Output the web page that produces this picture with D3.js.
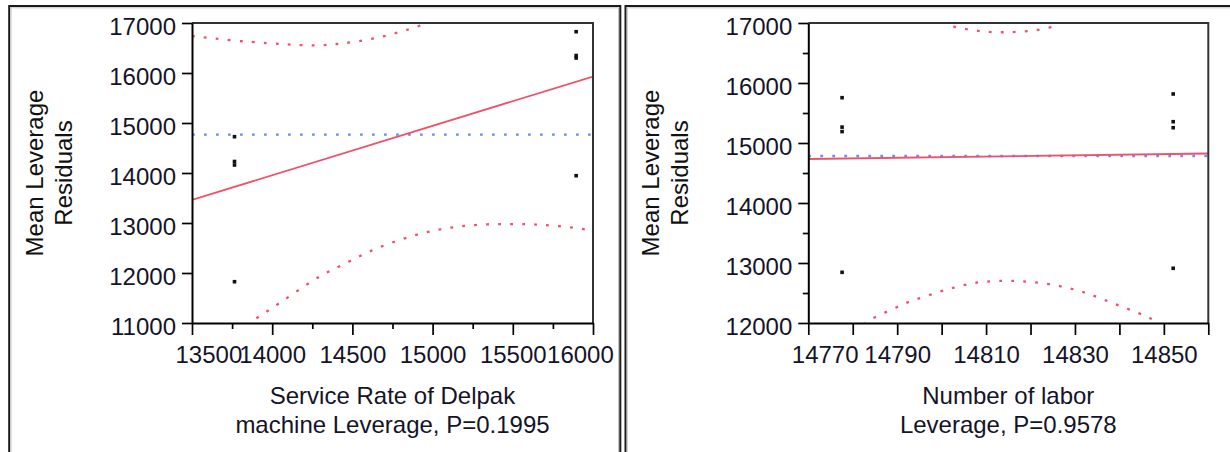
<!DOCTYPE html>
<html>
<head>
<meta charset="utf-8">
<script src="https://cdn.jsdelivr.net/npm/d3@7"></script>
<style>
  html, body { margin: 0; padding: 0; background: #fff; }
  svg { display: block; font-family: "Liberation Sans", Arial, sans-serif; }
</style>
</head>
<body>
<svg id="chart" width="1230" height="452"></svg>
<script>
// ---------------- Left panel: Service Rate of Delpak machine ----------------
const leftPointX = [13765, 13765, 13765, 13765, 15895, 15895, 15895, 15895];
const leftPointY = [14726, 14230, 14160, 11826, 16826, 16350, 16300, 13946];
const leftFitX = [13500, 16000];
const leftFitY = [13460, 15930];
const leftMeanY = 14767;
const leftUpperX = [13500, 13756, 13987, 14144, 14300, 14425, 14569, 14717, 14862, 14936, 14990];
const leftUpperY = [16740, 16646, 16594, 16560, 16546, 16586, 16646, 16746, 16880, 16960, 17060];
const leftLowerX = [13840, 13894, 14036, 14279, 14352, 14487, 14612, 14758, 14904, 15050, 15196, 15342, 15498, 15644, 15789, 15946, 16006];
const leftLowerY = [10960, 11080, 11374, 11913, 12026, 12240, 12446, 12626, 12774, 12880, 12946, 12980, 12980, 12974, 12940, 12880, 12840];
const leftXTicks = [13500, 14000, 14500, 15000, 15500, 16000];
const leftXMinor = [13750, 14250, 14750, 15250, 15750];
const leftYTicks = [11000, 12000, 13000, 14000, 15000, 16000, 17000];
const leftYMinor = [];
const leftXDomain = [13500, 16000];
const leftYDomain = [11000, 17000];
const leftYTitle = ["Mean Leverage", "Residuals"];
const leftXTitle = ["Service Rate of Delpak", "machine Leverage, P=0.1995"];

// ---------------- Right panel: Number of labor ----------------
const rightPointX = [14777.6, 14777.6, 14777.6, 14777.6, 14852.1, 14852.1, 14852.1, 14852.1];
const rightPointY = [15755, 15265, 15190, 12845, 15817, 15355, 15255, 12912];
const rightFitX = [14770, 14860];
const rightFitY = [14733, 14825];
const rightMeanY = 14783;
const rightUpperX = [14800.2, 14801.5, 14804.1, 14806.8, 14809.5, 14812.2, 14814.9, 14817.6, 14820.4, 14823, 14825.7, 14826.6];
const rightUpperY = [17030, 16967, 16912, 16883, 16855, 16845, 16845, 16855, 16872, 16900, 16950, 17020];
const rightLowerX = [14782.5, 14783.5, 14786.1, 14788.8, 14791.4, 14793.6, 14796.3, 14798.9, 14801.5, 14804.1, 14806.8, 14809.4, 14812.2, 14814.9, 14817.6, 14820.3, 14822.9, 14825.7, 14828.3, 14831.0, 14833.4, 14836.0, 14838.6, 14841.2, 14843.9, 14846.3, 14848.4, 14849.2];
const rightLowerY = [11970, 12050, 12133, 12228, 12312, 12383, 12438, 12512, 12562, 12617, 12662, 12688, 12700, 12705, 12700, 12683, 12662, 12628, 12588, 12538, 12478, 12405, 12328, 12255, 12178, 12105, 12022, 11970];
const rightXTicks = [14770, 14780, 14790, 14800, 14810, 14820, 14830, 14840, 14850, 14860];
const rightXLabels = [14770, 14790, 14810, 14830, 14850];
const rightXMinor = [];
const rightYTicks = [12000, 13000, 14000, 15000, 16000, 17000];
const rightYMinor = [12500, 13500, 14500, 15500, 16500];
const rightXDomain = [14770, 14860];
const rightYDomain = [12000, 17000];
const rightYTitle = ["Mean Leverage", "Residuals"];
const rightXTitle = ["Number of labor", "Leverage, P=0.9578"];

// ---------------- Drawing ----------------
const svg = d3.select("#chart");
svg.append("rect").attr("width", 1230).attr("height", 452).attr("fill", "#fff");

const FONT = 24;
const TEXT = "#141428";
const RED = "#f0506a";
const BLUE = "#6f8ef2";
const TOP = 23, BOTTOM = 323;

function zip(xs, ys) { return xs.map((v, i) => [v, ys[i]]); }

function drawPanel(p, id) {
  // panel frame
  svg.append("path")
    .attr("d", `M${p.panelL},470 V6 H${p.panelR} V470`)
    .attr("fill", "none").attr("stroke", "#1a1a1a").attr("stroke-width", 2);
  svg.append("path")
    .attr("d", `M${p.panelL + 1.8},470 V7.8 H${p.panelR - 1.8} V470`)
    .attr("fill", "none").attr("stroke", "#c4c4c4").attr("stroke-width", 1);

  const x = d3.scaleLinear().domain(p.xDomain).range([p.plotL, p.plotR]);
  const y = d3.scaleLinear().domain(p.yDomain).range([BOTTOM, TOP]);
  const g = svg.append("g");

  // clip
  const clipId = "clip-" + id;
  svg.append("clipPath").attr("id", clipId)
    .append("rect").attr("x", p.plotL).attr("y", TOP)
    .attr("width", p.plotR - p.plotL).attr("height", BOTTOM - TOP);
  const plot = g.append("g").attr("clip-path", `url(#${clipId})`);

  // mean line (blue dotted)
  plot.append("line")
    .attr("x1", x(p.xDomain[0])).attr("x2", x(p.xDomain[1]))
    .attr("y1", y(p.mean)).attr("y2", y(p.mean))
    .attr("stroke", BLUE).attr("stroke-width", 2.3)
    .attr("stroke-dasharray", "2.8,9.2");

  // confidence curves (red dotted)
  const curve = d3.line().x(d => x(d[0])).y(d => y(d[1])).curve(d3.curveBasis);
  [p.upper, p.lower].forEach(pts => {
    plot.append("path").attr("d", curve(pts))
      .attr("fill", "none").attr("stroke", RED).attr("stroke-width", 2.3)
      .attr("stroke-dasharray", "2.8,9.2");
  });

  // fit line (red solid)
  plot.append("path").attr("d", d3.line().x(d => x(d[0])).y(d => y(d[1]))(p.fit))
    .attr("fill", "none").attr("stroke", RED).attr("stroke-width", 1.8);

  // points
  plot.selectAll("rect.pt").data(p.points).enter().append("rect")
    .attr("class", "pt")
    .attr("x", d => x(d[0]) - 1.8).attr("y", d => y(d[1]) - 1.8)
    .attr("width", 3.6).attr("height", 3.6).attr("fill", "#111");

  // frame (top & right)
  g.append("path")
    .attr("d", `M${p.plotL},${TOP} H${p.plotR} V${BOTTOM}`)
    .attr("fill", "none").attr("stroke", "#333").attr("stroke-width", 2);

  // x axis
  const xAxis = d3.axisBottom(x).tickValues(p.xTicks).tickSize(12).tickSizeOuter(0)
    .tickFormat(d => p.xLabels.includes(d) ? String(d) : "");
  const gx = g.append("g").attr("transform", `translate(0,${BOTTOM})`).call(xAxis);
  if (p.xMinor.length) {
    g.append("g").attr("transform", `translate(0,${BOTTOM})`)
      .call(d3.axisBottom(x).tickValues(p.xMinor).tickSize(6).tickSizeOuter(0).tickFormat(""))
      .call(s => s.select(".domain").remove());
  }
  // y axis
  const yAxis = d3.axisLeft(y).tickValues(p.yTicks).tickSize(10).tickSizeOuter(0)
    .tickFormat(d => String(d));
  const gy = g.append("g").attr("transform", `translate(${p.plotL},0)`).call(yAxis);
  if (p.yMinor.length) {
    g.append("g").attr("transform", `translate(${p.plotL},0)`)
      .call(d3.axisLeft(y).tickValues(p.yMinor).tickSize(5.5).tickSizeOuter(0).tickFormat(""))
      .call(s => s.select(".domain").remove());
  }

  g.selectAll(".domain").attr("stroke", "#000").attr("stroke-width", 2);
  g.selectAll(".tick line").attr("stroke", "#000").attr("stroke-width", 1.7);
  g.selectAll(".tick text").attr("font-size", FONT).attr("fill", TEXT)
    .attr("font-family", '"Liberation Sans", Arial, sans-serif');

  gy.selectAll(".tick text").attr("x", -16).attr("dy", null).attr("y", 11.5);
  gx.selectAll(".tick text").attr("y", 39.5).attr("dy", null);

  // clamp x tick labels inside the allowed band
  const minLeft = p.plotL - 17, maxRight = p.panelR - 7;
  gx.selectAll(".tick text").each(function (d) {
    const w = this.getComputedTextLength();
    if (!w) return;
    const cx = x(d);
    let shift = 0;
    if (cx - w / 2 < minLeft) shift = minLeft - (cx - w / 2);
    if (cx + w / 2 > maxRight) shift = maxRight - (cx + w / 2);
    d3.select(this).attr("x", shift);
  });

  // y title (rotated, two lines)
  const cy = (TOP + BOTTOM) / 2;
  p.yTitle.forEach((t, i) => {
    svg.append("text")
      .attr("transform", `translate(${p.yTitleX[i]},${cy}) rotate(-90)`)
      .attr("text-anchor", "middle").attr("font-size", FONT).attr("fill", "#111")
      .text(t);
  });
  // x title (two lines)
  const cx = (p.plotL + p.plotR) / 2;
  p.xTitle.forEach((t, i) => {
    svg.append("text")
      .attr("x", cx).attr("y", [404, 433][i])
      .attr("text-anchor", "middle").attr("font-size", FONT).attr("fill", TEXT)
      .text(t);
  });
}

drawPanel({
  panelL: 9.2, panelR: 620.3, plotL: 192, plotR: 593,
  xDomain: leftXDomain, yDomain: leftYDomain,
  xTicks: leftXTicks, xLabels: leftXTicks, xMinor: leftXMinor,
  yTicks: leftYTicks, yMinor: leftYMinor,
  points: zip(leftPointX, leftPointY), fit: zip(leftFitX, leftFitY), mean: leftMeanY,
  upper: zip(leftUpperX, leftUpperY), lower: zip(leftLowerX, leftLowerY),
  yTitle: leftYTitle, xTitle: leftXTitle, yTitleX: [43, 72]
}, "L");

drawPanel({
  panelL: 625.5, panelR: 1245, plotL: 808.3, plotR: 1208.3,
  xDomain: rightXDomain, yDomain: rightYDomain,
  xTicks: rightXTicks, xLabels: rightXLabels, xMinor: rightXMinor,
  yTicks: rightYTicks, yMinor: rightYMinor,
  points: zip(rightPointX, rightPointY), fit: zip(rightFitX, rightFitY), mean: rightMeanY,
  upper: zip(rightUpperX, rightUpperY), lower: zip(rightLowerX, rightLowerY),
  yTitle: rightYTitle, xTitle: rightXTitle, yTitleX: [659, 688]
}, "R");
</script>
</body>
</html>
